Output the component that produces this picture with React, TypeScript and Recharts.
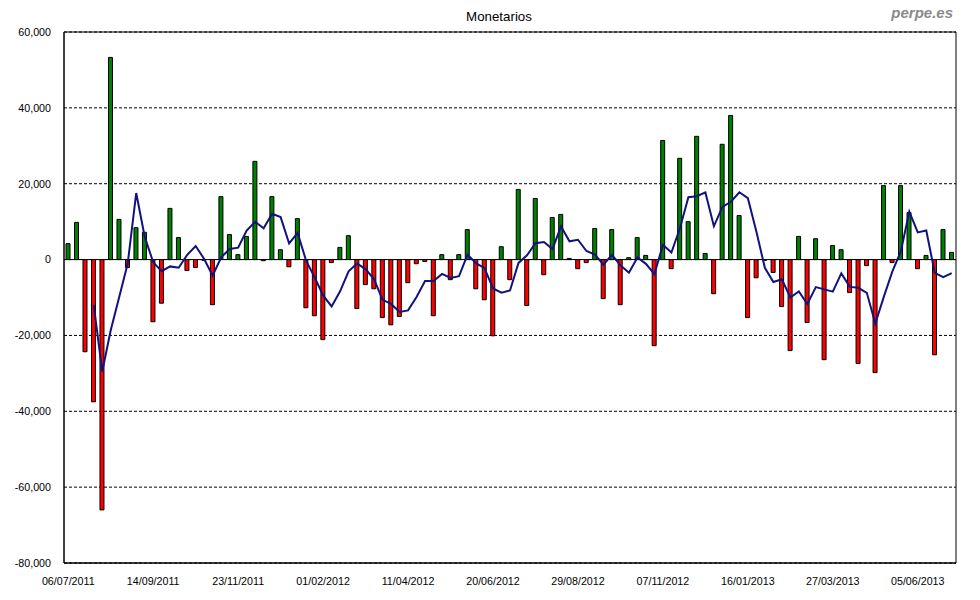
import { ComposedChart, Bar, Line, Cell, XAxis, YAxis, CartesianGrid, ReferenceLine, ReferenceArea } from 'recharts';

// weekly net flows, first week 06/07/2011
const START_DATE = Date.UTC(2011, 6, 6);
const WEEK_COUNT = 105;

const flujos = [
    4200, 9800, -24300, -37500, -66000, 53300, 10600, -2100, 8400, 7200,
    -16400, -11500, 13500, 5800, -2900, -2100, -200, -11900, 16600, 6600,
    1300, 6100, 25900, -300, 16600, 2600, -1900, 10800, -12700, -14800,
    -21100, -800, 3200, 6300, -12900, -6600, -7700, -15300, -17200, -15000,
    -6100, -1100, -500, -14800, 1300, -5300, 1300, 7900, -7700, -10600,
    -20100, 3400, -5300, 18500, -12100, 16100, -4000, 11100, 11900, 300,
    -2400, -800, 8200, -10300, 7900, -11900, 500, 5800, 1100, -22700,
    31400, -2400, 26700, 10000, 32500, 1600, -9000, 30400, 38000, 11600,
    -15300, -4800, -200, -3400, -12400, -24000, 6100, -16600, 5500, -26400,
    3700, 2600, -8700, -27400, -1600, -29800, 19500, -800, 19500, 12400,
    -2400, 1100, -25100, 7900, 1900,
];

// blue line (4 week average)
const media4 = [
    null, null, null, -11950, -29500, -18625, -9900, -1050, 17550, 6025,
    -725, -3075, -1800, -2150, 1225, 3575, 150, -4275, 600, 2775,
    3150, 7650, 9975, 8250, 12075, 11200, 4250, 7025, -300, -4650,
    -9450, -12350, -8375, -3100, -1050, -2500, -5225, -10625, -11700, -13800,
    -13400, -9850, -5675, -5625, -3775, -4825, -4375, 1300, -950, -2275,
    -7625, -8750, -8150, -875, 1125, 4300, 4625, 2775, 8775, 4825,
    5225, 2250, 1325, -1325, 1250, -1525, -3450, 575, -1125, -3825,
    3900, 1850, 8250, 16425, 16700, 17700, 8775, 13875, 15250, 17750,
    16175, 7375, -2175, -5925, -5200, -10000, -8425, -11725, -7250, -7850,
    -8450, -3650, -7200, -7450, -8775, -16875, -9825, -3175, 2100, 12650,
    7175, 7650, -3500, -4625, -3550,
];

const yTicks = [-80000, -60000, -40000, -20000, 0, 20000, 40000, 60000];

const pad = (n: number) => (n < 10 ? '0' + n : '' + n);
const semanas = Array.from({ length: WEEK_COUNT }, (_, i) => {
    const d = new Date(START_DATE + i * 7 * 86400000);
    return `${pad(d.getUTCDate())}/${pad(d.getUTCMonth() + 1)}/${d.getUTCFullYear()}`;
});

const data = semanas.map((fecha, i) => ({
    fecha,
    flujo: flujos[i],
    media: media4[i],
}));

const FONT = '"Liberation Sans", Arial, sans-serif';

export default function App() {
    return (
        <div style={{ position: 'absolute', left: 0, top: 0, width: 980, height: 600, background: '#fff', fontFamily: FONT }}>
            <div style={{ position: 'absolute', left: 0, width: 998, top: 9, textAlign: 'center', fontSize: 13.3, color: '#000' }}>
                Monetarios
            </div>
            <div style={{ position: 'absolute', right: 27, top: 4, fontSize: 15, fontWeight: 'bold', fontStyle: 'italic', color: '#8a8a8a' }}>
                perpe.es
            </div>
            <ComposedChart
                width={980}
                height={600}
                data={data}
                margin={{ top: 32, right: 24, bottom: 0, left: 8 }}
            >
                <CartesianGrid vertical={false} stroke="#000" strokeDasharray="3 2" />
                <XAxis
                    dataKey="fecha"
                    interval={9}
                    height={37}
                    tickLine={false}
                    axisLine={{ stroke: '#000' }}
                    tickSize={0}
                    tickMargin={14}
                    tick={{ fontSize: 10.7, fill: '#000', fontFamily: FONT }}
                />
                <YAxis
                    domain={[-80000, 60000]}
                    ticks={yTicks}
                    width={56}
                    tickLine={false}
                    axisLine={{ stroke: '#000' }}
                    tickSize={0}
                    tickMargin={13}
                    tickFormatter={(v: number) => v.toLocaleString('en-US')}
                    tick={{ fontSize: 10.7, fill: '#000', fontFamily: FONT }}
                />
                <ReferenceArea y1={-80000} y2={60000} fill="none" stroke="#000" strokeOpacity={1} />
                <Bar dataKey="flujo" barSize={4} stroke="#000" strokeWidth={1} isAnimationActive={false}>
                    {data.map((d, i) => (
                        <Cell key={`c-${i}`} fill={d.flujo >= 0 ? '#008000' : '#ff0000'} />
                    ))}
                </Bar>
                <ReferenceLine y={0} stroke="#000" strokeWidth={1} />
                <Line
                    dataKey="media"
                    type="linear"
                    stroke="#12127e"
                    strokeWidth={2}
                    dot={false}
                    connectNulls={false}
                    isAnimationActive={false}
                />
            </ComposedChart>
        </div>
    );
}
